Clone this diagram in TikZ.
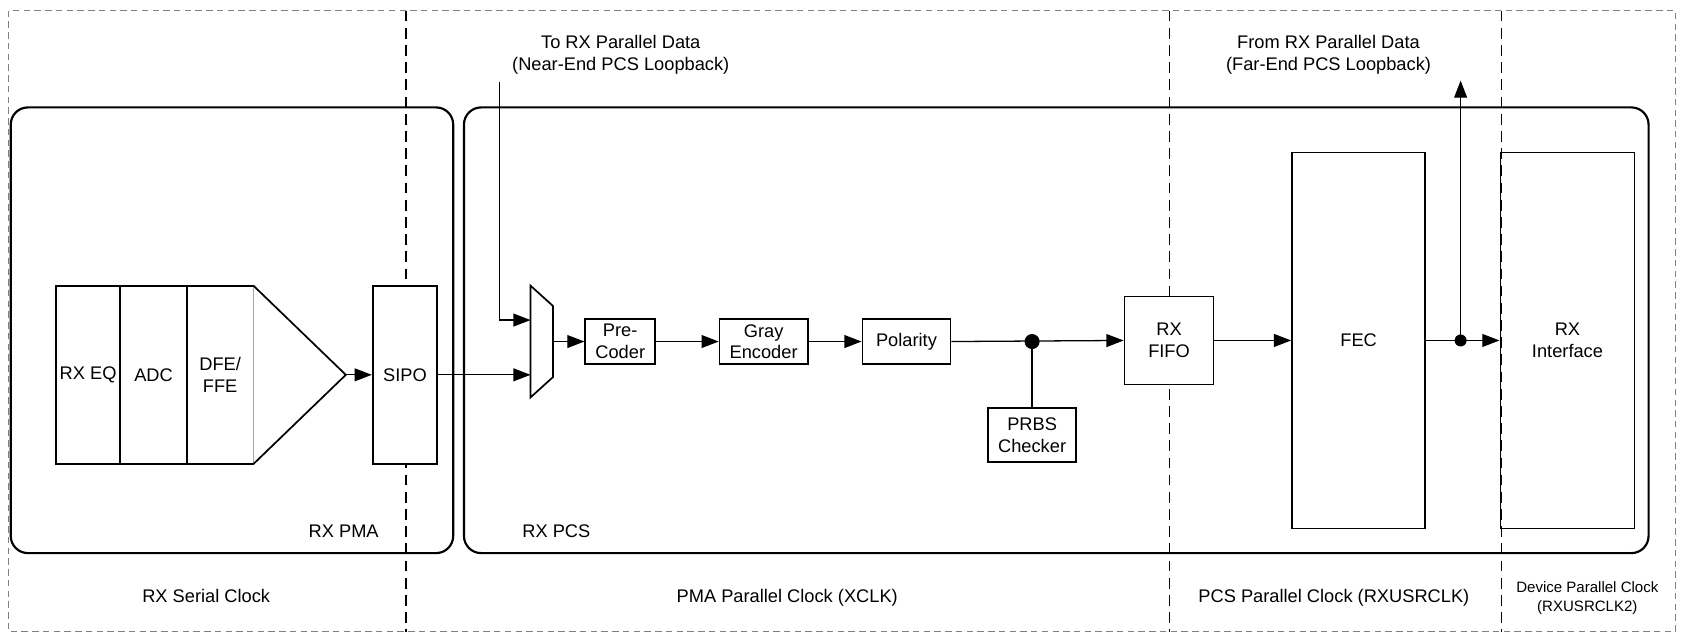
\documentclass[tikz,border=0pt]{standalone}
\usepackage{fontspec}
\setmainfont{Liberation Sans}
\usetikzlibrary{arrows.meta}
\begin{document}
\begin{tikzpicture}[x=0.5pt,y=-0.5pt,
  blk/.style={draw,line width=0.8pt,align=center,inner sep=0pt,font=\fontsize{8.5}{10}\selectfont},
  arr/.style={line width=0.6pt,-{Triangle[length=8pt,width=6pt]}},
  ln/.style={line width=0.6pt},
  dsh/.style={line width=0.6pt,dash pattern=on 5pt off 3pt},
  lbl/.style={font=\fontsize{8.5}{10}\selectfont,align=center,inner sep=0pt}]
\useasboundingbox (0,0) rectangle (1568,596);
\draw[gray,line width=0.5pt,dash pattern=on 3pt off 2pt] (8,10) rectangle (1560,588);
\foreach \x/\n in {378/d1,1089/d2,1398/d3}{\draw[dsh] (\x,10) coordinate(\n t) -- (\x,588) coordinate(\n b);}
\draw[line width=1pt,rounded corners=8pt] (10,100) rectangle (422,515);
\draw[line width=1pt,rounded corners=8pt] (432,100) rectangle (1535,515);
\node[lbl] (pmal) at (320,495) {RX PMA};
\node[lbl] (pcsl) at (518,495) {RX PCS};
% PMA blocks
\node[blk,fill=white,minimum width=30pt,minimum height=83pt] (eq) at (82,349) {RX EQ};
\node[blk,fill=white,minimum width=31pt,minimum height=83pt] (adc) at (143,349) {ADC};
\node[blk,fill=white,minimum width=31pt,minimum height=83pt] (dfe) at (205,349) {DFE/\\FFE};
\draw[line width=0.8pt,fill=white] (236,266) -- (322,349) coordinate (tip) -- (236,432);
\node[blk,fill=white,minimum width=30pt,minimum height=83pt] (sipo) at (377,349) {SIPO};
\draw[arr] (tip) -- (sipo.west);
% mux
\draw[line width=0.8pt] (494,266) -- (515,285) -- (515,351) -- (494,370) -- cycle;
\coordinate (muxa) at (494,298); \coordinate (muxb) at (494,349); \coordinate (muxo) at (515,318);
\coordinate (lbtop) at (465,76);
\draw[arr] (lbtop) |- (muxa);
\draw[arr] (sipo.east) -- (muxb);
\node[blk,minimum width=32.5pt,minimum height=21pt] (pre) at (577.5,318) {Pre-\\Coder};
\node[blk,minimum width=41pt,minimum height=21pt] (gray) at (711,318) {Gray\\Encoder};
\node[blk,minimum width=41pt,minimum height=21pt] (pol) at (844,318) {Polarity};
\node[blk,minimum width=41pt,minimum height=25pt] (prbs) at (961,405) {PRBS\\Checker};
\node[blk,fill=white,minimum width=41.5pt,minimum height=41pt] (fifo) at (1088.5,317) {RX\\FIFO};
\node[blk,minimum width=62pt,minimum height=175pt] (fec) at (1265,317) {FEC};
\node[blk,minimum width=62.5pt,minimum height=175pt] (rxi) at (1459.5,317) {RX\\Interface};
\draw[arr] (muxo) -- (pre.west);
\draw[arr] (pre.east) -- (gray.west);
\draw[arr] (gray.east) -- (pol.west);
\coordinate (j1) at (961,318);
\draw[arr] (pol.east) -- (fifo.west);
\draw[ln] (j1) -- (prbs.north);
\fill (j1) circle (3.5pt);
\draw[arr] (fifo.east) -- (fec.west);
\coordinate (j2) at (1360,317);
\draw[arr] (fec.east) -- (rxi.west);
\coordinate (uptop) at (1360,75);
\draw[arr] (j2) -- (uptop);
\fill (j2) circle (2.8pt);
% labels
\node[lbl] (t1) at (578,51) {To RX Parallel Data\\(Near-End PCS Loopback)};
\node[lbl] (t2) at (1237,51) {From RX Parallel Data\\(Far-End PCS Loopback)};
\node[lbl] (c1) at (192,555) {RX Serial Clock};
\node[lbl] (c2) at (733,557) {PMA Parallel Clock (XCLK)};
\node[lbl] (c3) at (1242,557) {PCS Parallel Clock (RXUSRCLK)};
\node[lbl,font=\fontsize{7}{9}\selectfont] (c4) at (1478,557) {Device Parallel Clock\\(RXUSRCLK2)};
\end{tikzpicture}
\end{document}
